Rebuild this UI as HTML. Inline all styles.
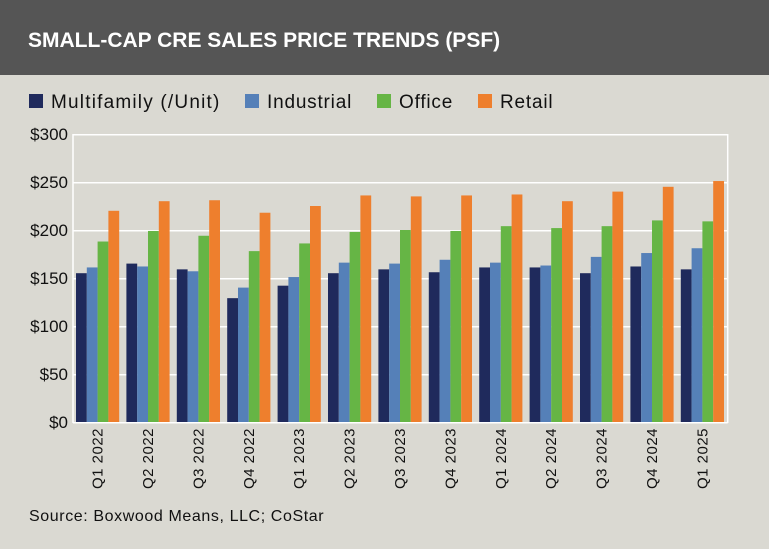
<!DOCTYPE html>
<html><head><meta charset="utf-8"><style>
html,body{margin:0;padding:0;}
body{width:769px;height:544px;background:#dad9d2;overflow:hidden;font-family:"Liberation Sans",sans-serif;}
</style></head><body>
<svg width="769" height="544" xmlns="http://www.w3.org/2000/svg" font-family="Liberation Sans, sans-serif">
<rect x="0" y="0" width="769" height="544" fill="#dad9d2"/>
<rect x="0" y="0" width="769" height="75" fill="#555555"/>
<text x="28" y="47" fill="#ffffff" font-size="21" font-weight="bold">SMALL-CAP CRE SALES PRICE TRENDS (PSF)</text>
<g font-size="19" fill="#111">
<rect x="29" y="94" width="14" height="14" fill="#1f2a5c"/><text x="51" y="108" letter-spacing="1.2">Multifamily (/Unit)</text>
<rect x="245" y="94" width="14" height="14" fill="#5580b8"/><text x="267" y="108" letter-spacing="0.8">Industrial</text>
<rect x="377" y="94" width="14" height="14" fill="#66b545"/><text x="399" y="108" letter-spacing="0.8">Office</text>
<rect x="478" y="94" width="14" height="14" fill="#ee7f2d"/><text x="500" y="108" letter-spacing="0.8">Retail</text>
</g>
<g stroke="#ffffff" stroke-width="1.5">
<line x1="73" y1="134.7" x2="727.7" y2="134.7"/>
<line x1="73" y1="182.7" x2="727.7" y2="182.7"/>
<line x1="73" y1="230.7" x2="727.7" y2="230.7"/>
<line x1="73" y1="278.7" x2="727.7" y2="278.7"/>
<line x1="73" y1="326.7" x2="727.7" y2="326.7"/>
<line x1="73" y1="374.7" x2="727.7" y2="374.7"/>
<line x1="73" y1="422.7" x2="727.7" y2="422.7"/>
<line x1="73" y1="134" x2="73" y2="423"/>
<line x1="727.7" y1="134" x2="727.7" y2="423"/>
</g>
<g font-size="17" fill="#111" text-anchor="end">
<text x="68" y="140">$300</text><text x="68" y="188">$250</text><text x="68" y="236">$200</text>
<text x="68" y="284">$150</text><text x="68" y="332">$100</text><text x="68" y="380">$50</text><text x="68" y="428">$0</text>
</g>
<g id="bars">
<g transform="translate(76,422) scale(1,-1)"><rect x="0" y="0" width="10.8" height="148.8" fill="#1f2a5c"/><rect x="10.8" y="0" width="10.8" height="154.56" fill="#5580b8"/><rect x="21.6" y="0" width="10.8" height="180.48" fill="#66b545"/><rect x="32.4" y="0" width="10.8" height="211.2" fill="#ee7f2d"/></g>
<g transform="translate(126.4,422) scale(1,-1)"><rect x="0" y="0" width="10.8" height="158.4" fill="#1f2a5c"/><rect x="10.8" y="0" width="10.8" height="155.52" fill="#5580b8"/><rect x="21.6" y="0" width="10.8" height="191.04" fill="#66b545"/><rect x="32.4" y="0" width="10.8" height="220.8" fill="#ee7f2d"/></g>
<g transform="translate(176.8,422) scale(1,-1)"><rect x="0" y="0" width="10.8" height="152.64" fill="#1f2a5c"/><rect x="10.8" y="0" width="10.8" height="150.72" fill="#5580b8"/><rect x="21.6" y="0" width="10.8" height="186.24" fill="#66b545"/><rect x="32.4" y="0" width="10.8" height="221.76" fill="#ee7f2d"/></g>
<g transform="translate(227.2,422) scale(1,-1)"><rect x="0" y="0" width="10.8" height="123.84" fill="#1f2a5c"/><rect x="10.8" y="0" width="10.8" height="134.4" fill="#5580b8"/><rect x="21.6" y="0" width="10.8" height="170.88" fill="#66b545"/><rect x="32.4" y="0" width="10.8" height="209.28" fill="#ee7f2d"/></g>
<g transform="translate(277.6,422) scale(1,-1)"><rect x="0" y="0" width="10.8" height="136.32" fill="#1f2a5c"/><rect x="10.8" y="0" width="10.8" height="144.96" fill="#5580b8"/><rect x="21.6" y="0" width="10.8" height="178.56" fill="#66b545"/><rect x="32.4" y="0" width="10.8" height="216" fill="#ee7f2d"/></g>
<g transform="translate(328,422) scale(1,-1)"><rect x="0" y="0" width="10.8" height="148.8" fill="#1f2a5c"/><rect x="10.8" y="0" width="10.8" height="159.36" fill="#5580b8"/><rect x="21.6" y="0" width="10.8" height="190.08" fill="#66b545"/><rect x="32.4" y="0" width="10.8" height="226.56" fill="#ee7f2d"/></g>
<g transform="translate(378.4,422) scale(1,-1)"><rect x="0" y="0" width="10.8" height="152.64" fill="#1f2a5c"/><rect x="10.8" y="0" width="10.8" height="158.4" fill="#5580b8"/><rect x="21.6" y="0" width="10.8" height="192" fill="#66b545"/><rect x="32.4" y="0" width="10.8" height="225.6" fill="#ee7f2d"/></g>
<g transform="translate(428.8,422) scale(1,-1)"><rect x="0" y="0" width="10.8" height="149.76" fill="#1f2a5c"/><rect x="10.8" y="0" width="10.8" height="162.24" fill="#5580b8"/><rect x="21.6" y="0" width="10.8" height="191.04" fill="#66b545"/><rect x="32.4" y="0" width="10.8" height="226.56" fill="#ee7f2d"/></g>
<g transform="translate(479.2,422) scale(1,-1)"><rect x="0" y="0" width="10.8" height="154.56" fill="#1f2a5c"/><rect x="10.8" y="0" width="10.8" height="159.36" fill="#5580b8"/><rect x="21.6" y="0" width="10.8" height="195.84" fill="#66b545"/><rect x="32.4" y="0" width="10.8" height="227.52" fill="#ee7f2d"/></g>
<g transform="translate(529.6,422) scale(1,-1)"><rect x="0" y="0" width="10.8" height="154.56" fill="#1f2a5c"/><rect x="10.8" y="0" width="10.8" height="156.48" fill="#5580b8"/><rect x="21.6" y="0" width="10.8" height="193.92" fill="#66b545"/><rect x="32.4" y="0" width="10.8" height="220.8" fill="#ee7f2d"/></g>
<g transform="translate(580,422) scale(1,-1)"><rect x="0" y="0" width="10.8" height="148.8" fill="#1f2a5c"/><rect x="10.8" y="0" width="10.8" height="165.12" fill="#5580b8"/><rect x="21.6" y="0" width="10.8" height="195.84" fill="#66b545"/><rect x="32.4" y="0" width="10.8" height="230.4" fill="#ee7f2d"/></g>
<g transform="translate(630.4,422) scale(1,-1)"><rect x="0" y="0" width="10.8" height="155.52" fill="#1f2a5c"/><rect x="10.8" y="0" width="10.8" height="168.96" fill="#5580b8"/><rect x="21.6" y="0" width="10.8" height="201.6" fill="#66b545"/><rect x="32.4" y="0" width="10.8" height="235.2" fill="#ee7f2d"/></g>
<g transform="translate(680.8,422) scale(1,-1)"><rect x="0" y="0" width="10.8" height="152.64" fill="#1f2a5c"/><rect x="10.8" y="0" width="10.8" height="173.76" fill="#5580b8"/><rect x="21.6" y="0" width="10.8" height="200.64" fill="#66b545"/><rect x="32.4" y="0" width="10.8" height="240.96" fill="#ee7f2d"/></g>
</g>
<g font-size="15" fill="#111" text-anchor="end" letter-spacing="0.5">
<text transform="translate(102.6,428) rotate(-90)">Q1 2022</text>
<text transform="translate(153,428) rotate(-90)">Q2 2022</text>
<text transform="translate(203.4,428) rotate(-90)">Q3 2022</text>
<text transform="translate(253.8,428) rotate(-90)">Q4 2022</text>
<text transform="translate(304.2,428) rotate(-90)">Q1 2023</text>
<text transform="translate(354.6,428) rotate(-90)">Q2 2023</text>
<text transform="translate(405,428) rotate(-90)">Q3 2023</text>
<text transform="translate(455.4,428) rotate(-90)">Q4 2023</text>
<text transform="translate(505.8,428) rotate(-90)">Q1 2024</text>
<text transform="translate(556.2,428) rotate(-90)">Q2 2024</text>
<text transform="translate(606.6,428) rotate(-90)">Q3 2024</text>
<text transform="translate(657,428) rotate(-90)">Q4 2024</text>
<text transform="translate(707.4,428) rotate(-90)">Q1 2025</text>
</g>
<text x="29" y="521" font-size="16" fill="#111" letter-spacing="0.6">Source: Boxwood Means, LLC; CoStar</text>
</svg>
</body></html>
